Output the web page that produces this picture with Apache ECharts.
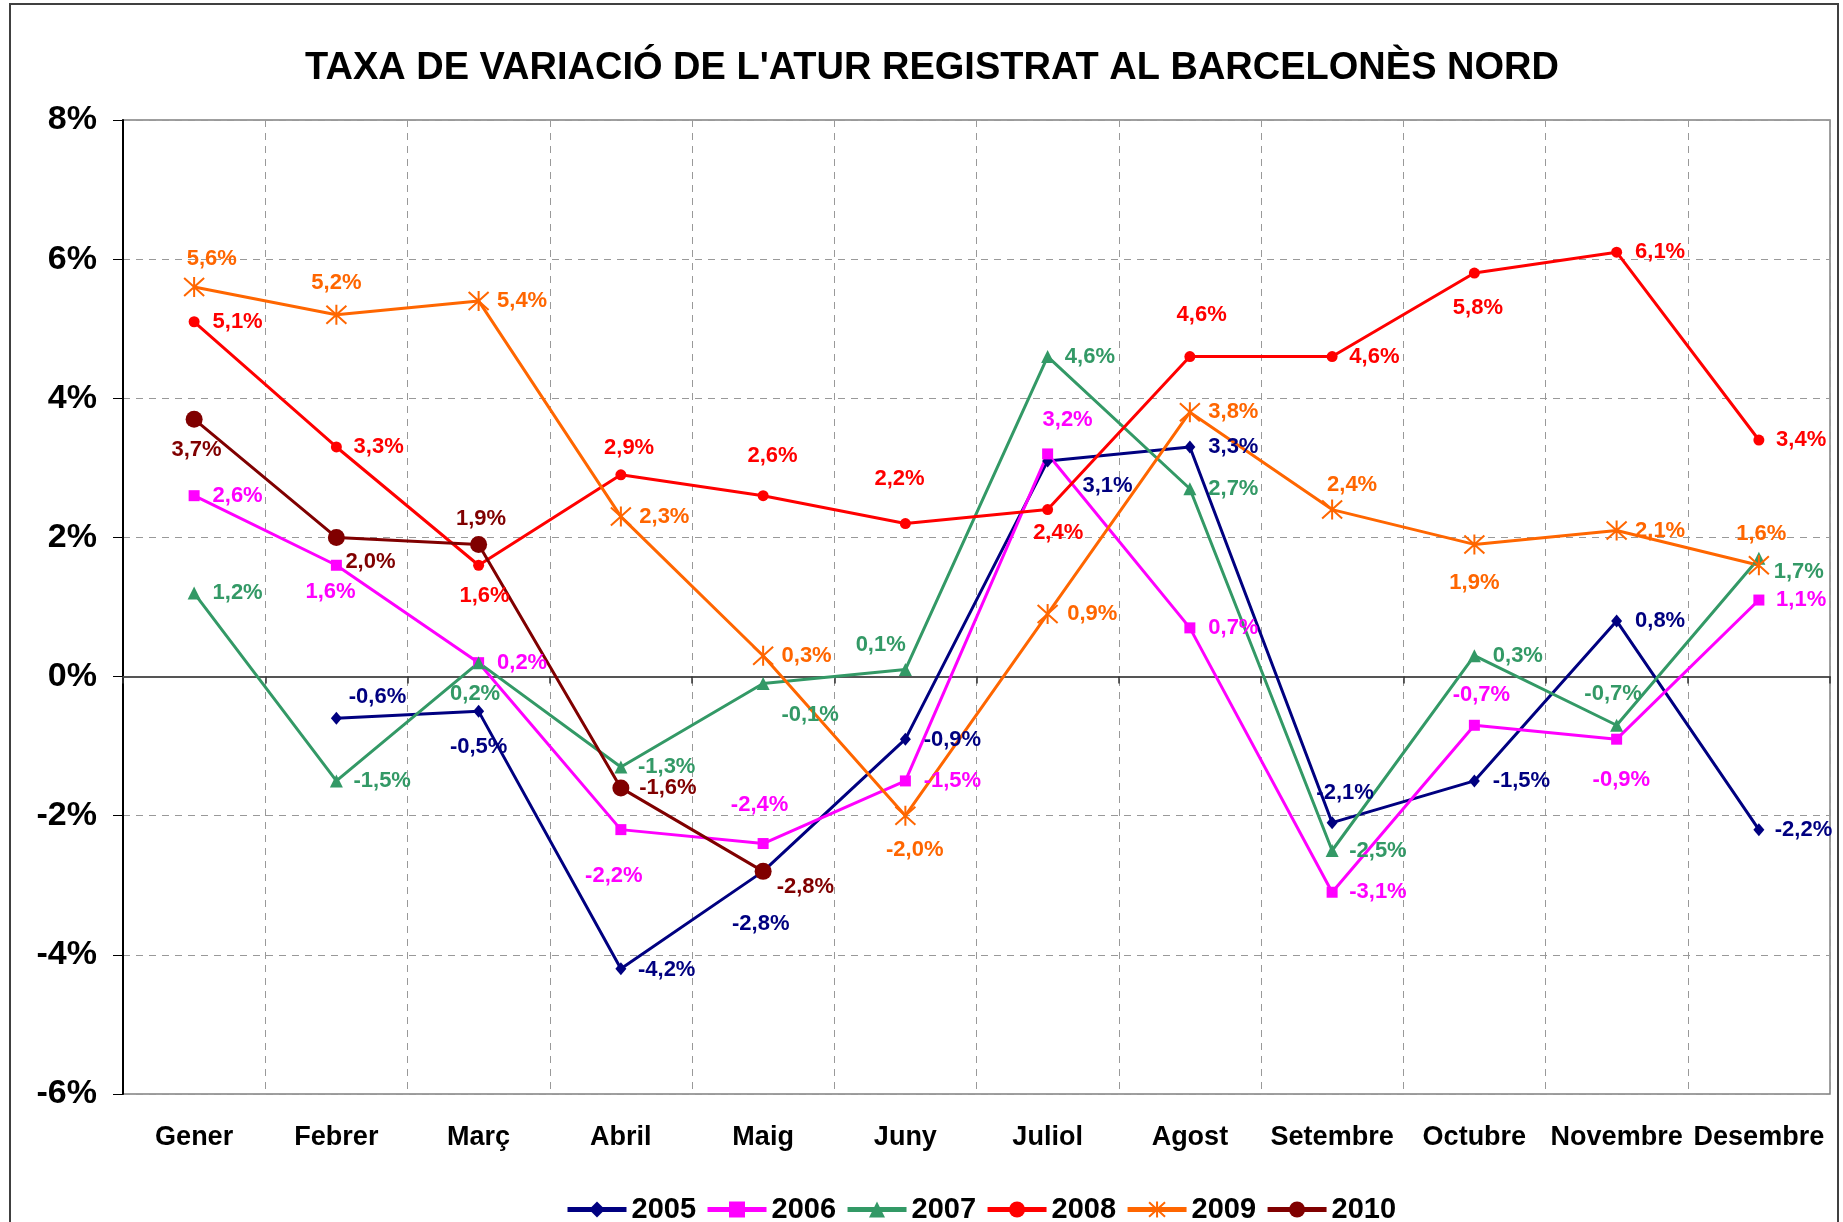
<!DOCTYPE html>
<html>
<head>
<meta charset="utf-8">
<script src="https://cdn.jsdelivr.net/npm/echarts@6/dist/echarts.min.js"></script>
<style>
  html, body { margin: 0; padding: 0; background: #fff; }
  #chart { width: 1843px; height: 1222px; }
</style>
</head>
<body>
<div id="chart"></div>
<script>
var months = ['Gener', 'Febrer', 'Març', 'Abril', 'Maig', 'Juny', 'Juliol', 'Agost', 'Setembre', 'Octubre', 'Novembre', 'Desembre'];
var yTicks = [-6, -4, -2, 0, 2, 4, 6, 8];

var y2005 = [null, -0.6, -0.5, -4.2, -2.8, -0.9, 3.1, 3.3, -2.1, -1.5, 0.8, -2.2];
var y2006 = [2.6, 1.6, 0.2, -2.2, -2.4, -1.5, 3.2, 0.7, -3.1, -0.7, -0.9, 1.1];
var y2007 = [1.2, -1.5, 0.2, -1.3, -0.1, 0.1, 4.6, 2.7, -2.5, 0.3, -0.7, 1.7];
var y2008 = [5.1, 3.3, 1.6, 2.9, 2.6, 2.2, 2.4, 4.6, 4.6, 5.8, 6.1, 3.4];
var y2009 = [5.6, 5.2, 5.4, 2.3, 0.3, -2.0, 0.9, 3.8, 2.4, 1.9, 2.1, 1.6];
var y2010 = [3.7, 2.0, 1.9, -1.6, -2.8, null, null, null, null, null, null, null];

// label placement (offset of label centre from the point, in reference px)
var K = 1.175;
var off2005 = [null, [35, -18], [0, 30], [39, 1], [-2, 45], [40, 1], [51, 21], [37, 0], [11, -25], [40, 0], [37, 0], [38, 0]];
var off2006 = [[37, 0], [-5, 23], [37, 0], [-6, 39], [-3, -33], [40, 0], [17, -29], [37, 0], [39, 0], [6, -26], [4, 35], [36, 0]];
var off2007 = [[37, 0], [39, 0], [-3, 27], [39, 0], [40, 27], [-21, -21], [36, 0], [37, 0], [39, 0], [37, 0], [-3, -27], [34, 12]];
var off2008 = [[37, 0], [36, 0], [5, 26], [7, -23], [8, -34], [-5, -38], [9, 20], [10, -35], [36, 0], [3, 30], [37, 0], [36, 0]];
var off2009 = [[15, -24], [0, -27], [37, 0], [37, 0], [37, 0], [8, 29], [38, 0], [37, 0], [17, -21], [0, 33], [37, 0], [2, -27]];
var off2010 = [[2, 26], [29, 21], [2, -22], [40, 0], [36, 13], null, null, null, null, null, null, null];

var FONT = '"Liberation Sans", Arial, sans-serif';
var STAR = 'path://M0,-10L0,10M-9,-9L9,9M-9,9L9,-9';

function fmt(v) {
    return v.toFixed(1).replace('.', ',') + '%';
}

function buildData(vals, offs) {
    var out = [];
    for (var i = 0; i < vals.length; ++i) {
        if (vals[i] == null) {
            out.push('-');
            continue;
        }
        out.push({
            value: vals[i],
            label: { offset: [offs[i][0] * K, offs[i][1] * K] }
        });
    }
    return out;
}

function makeSeries(name, vals, offs, color, symbol, size) {
    return {
        name: name,
        type: 'line',
        data: buildData(vals, offs),
        symbol: symbol,
        symbolSize: size,
        showAllSymbol: true,
        connectNulls: false,
        lineStyle: { color: color, width: 3 },
        itemStyle: { color: color, borderColor: color, borderWidth: symbol == STAR ? 2 : 0 },
        emphasis: { disabled: true },
        z: 3,
        label: {
            show: true,
            position: 'inside',
            color: color,
            fontFamily: FONT,
            fontWeight: 'bold',
            fontSize: 22,
            formatter: function (p) { return fmt(p.value); }
        }
    };
}

var series = [
    makeSeries('2005', y2005, off2005, '#000080', 'diamond', [11, 13]),
    makeSeries('2006', y2006, off2006, '#FF00FF', 'rect', 11),
    makeSeries('2007', y2007, off2007, '#339966', 'triangle', 13),
    makeSeries('2008', y2008, off2008, '#FF0000', 'circle', 11),
    makeSeries('2009', y2009, off2009, '#FF6600', STAR, 20),
    makeSeries('2010', y2010, off2010, '#800000', 'circle', 17)
];

var chart = echarts.init(document.getElementById('chart'), null, { renderer: 'canvas' });
chart.setOption({
    animation: false,
    backgroundColor: '#ffffff',
    graphic: [{
        type: 'rect',
        shape: { x: 10, y: 4, width: 1828, height: 1240 },
        style: { fill: 'none', stroke: '#404040', lineWidth: 2 },
        silent: true
    }],
    title: {
        text: "TAXA DE VARIACIÓ DE L'ATUR REGISTRAT AL BARCELONÈS NORD",
        left: 927,
        textAlign: 'center',
        top: 45,
        textStyle: { fontFamily: FONT, fontWeight: 'bold', fontSize: 38, color: '#000' }
    },
    legend: {
        left: 560,
        top: 1190,
        itemWidth: 59,
        itemHeight: 20,
        itemGap: 9,
        lineStyle: { width: 5 },
        textStyle: { fontFamily: FONT, fontWeight: 'bold', fontSize: 29, color: '#000' },
        data: ['2005', '2006', '2007', '2008', '2009', '2010']
    },
    grid: {
        left: 123, right: 13, top: 120, bottom: 128,
        show: true, borderColor: '#808080', borderWidth: 1.5
    },
    xAxis: [{
        type: 'category',
        data: months,
        boundaryGap: true,
        axisLine: { onZero: true, lineStyle: { color: '#555', width: 2 } },
        axisTick: { show: true, length: 7, lineStyle: { color: '#333', width: 1.5 } },
        axisLabel: { show: false },
        splitLine: { show: true, lineStyle: { color: '#999', type: [7, 6], width: 1 } }
    }, {
        type: 'category',
        data: months,
        position: 'bottom',
        boundaryGap: true,
        axisLine: { show: false, onZero: false },
        axisTick: { show: false },
        splitLine: { show: false },
        axisLabel: {
            margin: 30,
            interval: 0,
            fontFamily: FONT, fontWeight: 'bold', fontSize: 27, color: '#000'
        }
    }],
    yAxis: {
        type: 'value',
        min: yTicks[0],
        max: yTicks[yTicks.length - 1],
        interval: 2,
        axisLine: { show: true, lineStyle: { color: '#000', width: 2 } },
        axisTick: { show: true, length: 10, lineStyle: { color: '#000', width: 1 } },
        axisLabel: {
            margin: 26,
            fontFamily: FONT, fontWeight: 'bold', fontSize: 34, color: '#000',
            formatter: function (v) { return v + '%'; }
        },
        splitLine: { show: true, lineStyle: { color: '#999', type: [7, 6], width: 1 } }
    },
    series: series
});
</script>
</body>
</html>
